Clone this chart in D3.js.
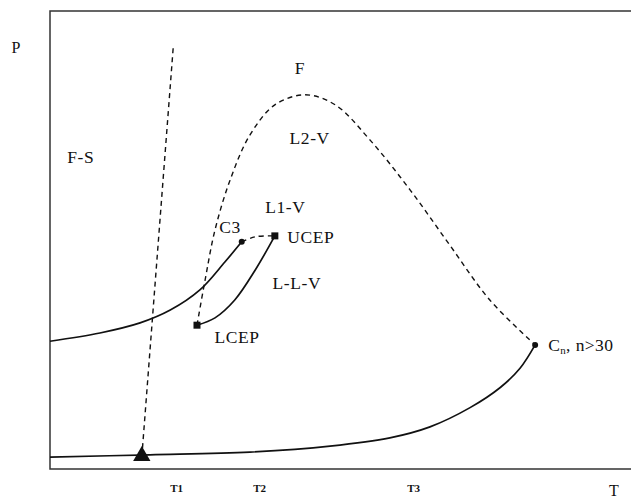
<!DOCTYPE html>
<html>
<head>
<meta charset="utf-8">
<script src="https://cdn.jsdelivr.net/npm/d3@7"></script>
<style>
  body { margin: 0; background: #fff; }
  text { font-family: "Liberation Serif", "DejaVu Serif", serif; fill: #111; }
</style>
</head>
<body>
<div id="chart"></div>
<script>
// phase diagram, T on x and P on y, arbitrary units 0-100

const fsLine = [[15.8, 2.6], [21.2, 91.9]];                        // F-S boundary (dashed)
const threePhase = [[0, 27.9], [8.6, 29.7], [15.5, 31.9], [20.7, 34.7],
                    [25.8, 39.1], [30.1, 45.2], [33.0, 49.6]];     // ends at C3
const llvLine = [[25.3, 31.4], [28.4, 33.0], [31.8, 36.9], [35.3, 43.4], [38.7, 50.9]];
const c3Ucep = [[33.0, 49.6], [35.3, 50.7], [38.7, 50.9]];
const dome = [[25.3, 31.4], [26.7, 41.3], [28.4, 52.2], [31.0, 63.1], [34.4, 72.9],
              [38.7, 79.5], [43.9, 81.7], [49.1, 79.5], [55.1, 71.8], [62.0, 60.9],
              [68.8, 48.9], [75.7, 36.9], [83.5, 27.1]];
const lowerCurve = [[0, 2.6], [17.2, 3.1], [34.4, 3.7], [48.2, 5.0], [58.5, 6.8],
                    [65.4, 9.2], [72.3, 13.4], [77.5, 17.8], [80.9, 22.0], [83.5, 27.1]];

const squares = [[25.3, 31.4], [38.7, 50.9]];   // LCEP, UCEP
const dots = [[33.0, 49.6], [83.5, 27.1]];       // C3, Cn
const triplePoint = [15.8, 2.6];

const tickVals = [21.7, 36.0, 62.5];
const tickNames = ["T1", "T2", "T3"];

const regionLabels = [
  { t: 5.3, p: 66.8, s: "F-S" },
  { t: 43.0, p: 86.2, s: "F" },
  { t: 44.7, p: 71.0, s: "L2-V" },
  { t: 40.5, p: 55.9, s: "L1-V" },
  { t: 31.0, p: 51.5, s: "C3" },
  { t: 44.9, p: 49.3, s: "UCEP" },
  { t: 42.5, p: 39.3, s: "L-L-V" },
  { t: 32.2, p: 27.5, s: "LCEP" }
];

const width = 631, height = 498;
const margin = { left: 50, right: 0, top: 11, bottom: 29 };

const svg = d3.select("#chart").append("svg")
    .attr("width", width)
    .attr("height", height);

const x = d3.scaleLinear().domain([0, 100]).range([margin.left, width - margin.right]);
const y = d3.scaleLinear().domain([0, 100]).range([height - margin.bottom, margin.top]);

// frame: left, top, bottom (no right edge)
svg.append("path")
    .attr("d", `M${x(100)},${y(100)}H${x(0)}V${y(0)}H${x(100)}`)
    .attr("fill", "none")
    .attr("stroke", "#333")
    .attr("stroke-width", 1.5);

// tick labels on T axis
const xAxis = d3.axisBottom(x)
    .tickValues(tickVals)
    .tickSize(0)
    .tickFormat((d, i) => tickNames[i]);
const gx = svg.append("g")
    .attr("transform", `translate(0,${y(0)})`)
    .call(xAxis);
gx.select(".domain").remove();
gx.selectAll("text")
    .attr("dy", 0)
    .attr("y", 23)
    .style("font-family", "'Liberation Serif', serif")
    .style("font-weight", "bold")
    .style("font-size", "11px")
    .attr("fill", "#111");

svg.append("text").attr("x", 16).attr("y", 53)
    .attr("text-anchor", "middle").style("font-size", "16px").text("P");
svg.append("text").attr("x", 614).attr("y", 496)
    .attr("text-anchor", "middle").style("font-size", "16px").text("T");

const line = d3.line().x(d => x(d[0])).y(d => y(d[1])).curve(d3.curveCatmullRom.alpha(0.5));

const solid = [threePhase, llvLine, lowerCurve];
const dashed = [fsLine, c3Ucep, dome];

svg.append("g").selectAll("path")
    .data(dashed)
    .join("path")
    .attr("d", line)
    .attr("fill", "none")
    .attr("stroke", "#111")
    .attr("stroke-width", 1.4)
    .attr("stroke-dasharray", "5,4");

svg.append("g").selectAll("path")
    .data(solid)
    .join("path")
    .attr("d", line)
    .attr("fill", "none")
    .attr("stroke", "#111")
    .attr("stroke-width", 1.7);

svg.append("g").selectAll("rect")
    .data(squares)
    .join("rect")
    .attr("x", d => x(d[0]) - 3.5)
    .attr("y", d => y(d[1]) - 3.5)
    .attr("width", 7)
    .attr("height", 7)
    .attr("fill", "#111");

svg.append("g").selectAll("circle")
    .data(dots)
    .join("circle")
    .attr("cx", d => x(d[0]))
    .attr("cy", d => y(d[1]))
    .attr("r", 3)
    .attr("fill", "#111");

// triangle at the bottom of the F-S line
svg.append("path")
    .attr("transform", `translate(${x(triplePoint[0])},${y(triplePoint[1]) - 1})`)
    .attr("d", d3.symbol(d3.symbolTriangle, 130))
    .attr("fill", "#111");

svg.append("g").selectAll("text")
    .data(regionLabels)
    .join("text")
    .attr("x", d => x(d.t))
    .attr("y", d => y(d.p))
    .attr("text-anchor", "middle")
    .style("font-size", "17.5px")
    .style("letter-spacing", "0.6px")
    .text(d => d.s);

// C_n, n>30 with subscript
const cn = svg.append("text")
    .attr("x", x(dots[1][0]) + 13)
    .attr("y", y(dots[1][1]) + 6)
    .style("font-size", "17.5px")
    .style("letter-spacing", "0.4px");
cn.append("tspan").text("C");
cn.append("tspan").attr("dy", 3).style("font-size", "11px").text("n");
cn.append("tspan").attr("dy", -3).text(", n>30");
</script>
</body>
</html>
